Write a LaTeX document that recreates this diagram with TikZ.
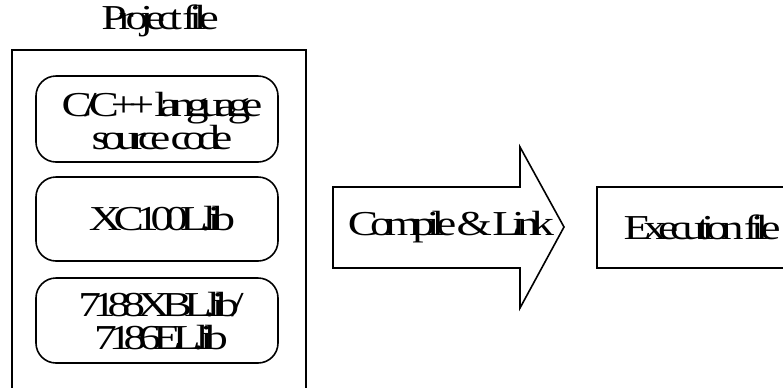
\documentclass[tikz,border=0pt]{standalone}
\usepackage{fontspec}
\setmainfont{Liberation Serif}
% tight, wide-glyph serif used for every label
\newfontfamily\labelfont[FakeStretch=1.3,LetterSpace=-23,WordSpace=0.1]{Liberation Serif}
\begin{document}
\begin{tikzpicture}[x=1bp,y=-1bp,
  frame/.style={line width=1.6bp,draw=black},
  libbox/.style={frame,rounded corners=20bp},
  lbl/.style={font=\labelfont\fontsize{35bp}{33bp}\selectfont,align=center,inner sep=0pt}]
  \clip (0,0) rectangle (783,387);
  \fill[white] (0,0) rectangle (783,387);

  % project container (open towards the bottom edge)
  \node[lbl] (title) at (160,21) {Project file};
  \draw[frame] (12,400) -- (12,50) -- (306,50) -- (306,400);

  % library boxes
  \draw[libbox] (36,76) rectangle (278,162);
  \node[lbl] (src) at (162,121) {C/C++ language\\source code};
  \draw[libbox] (36,177) rectangle (278,261);
  \node[lbl] (xc) at (162,219) {XC100L.lib};
  \draw[libbox] (36,278) rectangle (278,363);
  \node[lbl] (xbl) at (161,321) {7188XBL.lib/\\7186EL.lib};

  % block arrow
  \draw[frame] (333,187) -- (520,187) -- (520,147) -- (564,227) -- (520,308)
    -- (520,268) -- (333,268) -- cycle;
  \node[lbl] (link) at (451,227) {Compile \& Link};

  % result box (runs past the right edge)
  \draw[frame] (800,187) -- (597,187) -- (597,268) -- (800,268);
  \node[lbl] (exe) at (702,227) {Execution file};
\end{tikzpicture}
\end{document}
